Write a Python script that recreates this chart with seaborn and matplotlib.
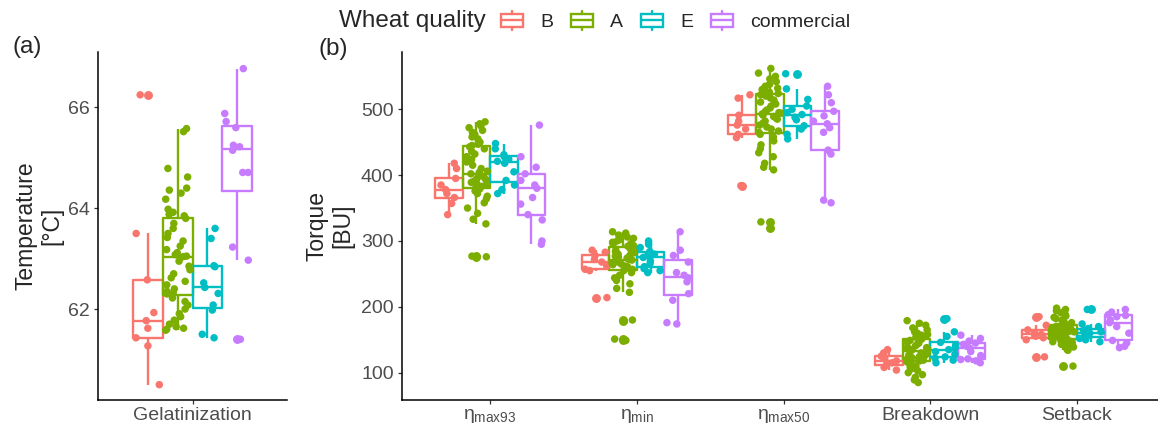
import numpy as np
import pandas as pd
import seaborn as sns
import matplotlib.pyplot as plt
from matplotlib.patches import Rectangle, Patch
from matplotlib.lines import Line2D
from matplotlib.legend_handler import HandlerBase

# ---------------------------------------------------------------- data
qualities = ["B", "A", "E", "commercial"]
palette = ["#F8766D", "#7CAE00", "#00BFC4", "#C77CFF"]

# Gelatinization temperature [°C]
gel_B = [66.25, 63.50, 62.58, 61.93, 61.77, 61.62, 61.43, 61.27, 60.50]
gel_A = [65.58, 65.52, 64.79, 64.62, 64.40, 64.36, 64.30, 64.18, 63.98, 63.92,
         63.88, 63.85, 63.80, 63.70, 63.60, 63.50, 63.42, 63.35, 63.25, 63.18,
         63.12, 63.08, 63.05, 63.04, 63.02, 62.95, 62.85, 62.78, 62.70, 62.62,
         62.55, 62.48, 62.40, 62.35, 62.32, 62.30, 62.22, 62.15, 62.08, 62.00,
         61.91, 61.85, 61.78, 61.70, 61.65, 61.62, 61.60, 61.58]
gel_E = [61.43, 61.50, 61.98, 62.08, 62.31, 62.43, 62.52, 62.84, 62.86, 63.40, 63.60]
gel_C = [61.40, 62.97, 63.23, 64.71, 64.71, 65.15, 65.22, 65.25, 65.60, 65.72,
         65.88, 66.77]

# Torque [BU]
max93_B = [340, 357, 366, 372, 378, 385, 395, 410, 418]
max93_A = [481, 478, 475, 472, 468, 465, 462, 458, 455, 450, 447, 445,
           443, 440, 436, 432, 428, 424, 420, 415, 410, 406, 404, 402,
           401, 399, 397, 395, 393, 391, 389, 387, 385, 383, 382, 381,
           379, 376, 372, 368, 364, 358, 350, 342, 333, 326, 277, 276]
max93_E = [372, 378, 385, 392, 405, 418, 421, 424, 428, 431, 440, 448]
max93_C = [295, 300, 332, 340, 356, 366, 380, 385, 392, 402, 412, 428, 476]

min_B = [214, 255, 257, 262, 268, 272, 278, 283, 286]
min_A = [314, 312, 309, 306, 304, 302, 300, 298, 296, 295, 293, 292,
         290, 288, 286, 284, 282, 280, 278, 277, 276, 274, 273, 272,
         271, 270, 268, 266, 265, 264, 262, 261, 260, 259, 258, 257,
         255, 252, 248, 244, 240, 235, 228, 222, 180, 178, 151, 149]
min_E = [252, 255, 258, 261, 266, 270, 275, 278, 280, 284, 290, 295, 300]
min_C = [174, 176, 210, 220, 238, 244, 248, 252, 268, 278, 286, 314]

max50_B = [384, 457, 462, 470, 476, 482, 491, 517, 522]
max50_A = [562, 555, 550, 546, 542, 538, 535, 532, 530, 528, 526, 524,
           522, 520, 517, 514, 511, 508, 505, 502, 499, 497, 495, 494,
           493, 491, 489, 487, 485, 482, 479, 476, 473, 470, 467, 465,
           462, 458, 452, 446, 440, 434, 428, 418, 412, 408, 329, 319]
max50_E = [455, 462, 470, 475, 484, 488, 492, 495, 500, 505, 515, 531, 554]
max50_C = [358, 362, 432, 438, 465, 472, 478, 482, 490, 497, 510, 522, 535]

brk_B = [104, 108, 112, 115, 118, 121, 125, 130, 135]
brk_A = [179, 175, 172, 168, 165, 162, 160, 158, 157, 156, 155, 154,
         151, 149, 147, 145, 143, 141, 139, 138, 137, 136, 135, 134,
         133, 132, 130, 129, 127, 126, 124, 123, 122, 121, 119, 118,
         116, 114, 112, 110, 108, 106, 103, 100, 97, 93, 89, 85]
brk_E = [115, 119, 122, 124, 128, 132, 135, 138, 142, 146, 155, 162, 182]
brk_C = [115, 118, 120, 121, 126, 132, 137, 140, 143, 145, 148, 152, 157]

set_B = [124, 150, 153, 156, 158, 161, 165, 172, 185]
set_A = [198, 196, 194, 191, 188, 186, 184, 182, 180, 178, 176, 174,
         172, 171, 170, 169, 168, 167, 166, 165, 164, 163, 163, 162,
         162, 161, 160, 159, 158, 157, 156, 155, 154, 153, 152, 151,
         149, 148, 147, 146, 145, 143, 141, 139, 137, 135, 134, 110]
set_E = [147, 150, 152, 154, 156, 158, 160, 162, 164, 167, 170, 174, 196]
set_C = [138, 140, 145, 149, 160, 170, 176, 180, 185, 187, 188, 192, 196]

gel_label = "Gelatinization"
torque_params = [r"$\eta_{\mathrm{max93}}$", r"$\eta_{\mathrm{min}}$",
                 r"$\eta_{\mathrm{max50}}$", "Breakdown", "Setback"]
torque_series = [
    [max93_B, max93_A, max93_E, max93_C],
    [min_B, min_A, min_E, min_C],
    [max50_B, max50_A, max50_E, max50_C],
    [brk_B, brk_A, brk_E, brk_C],
    [set_B, set_A, set_E, set_C],
]


def long_frame(params, series):
    rows = []
    for p, groups in zip(params, series):
        for q, vals in zip(qualities, groups):
            rows += [(p, q, v) for v in vals]
    return pd.DataFrame(rows, columns=["parameter", "quality", "value"])


df_gel = long_frame([gel_label], [[gel_B, gel_A, gel_E, gel_C]])
df_torque = long_frame(torque_params, torque_series)

# ---------------------------------------------------------------- style
sns.set_style("ticks")
plt.rcParams["font.family"] = ["Liberation Sans", "DejaVu Sans"]
plt.rcParams["mathtext.fontset"] = "custom"
plt.rcParams["mathtext.rm"] = "Liberation Sans"
plt.rcParams["mathtext.it"] = "Liberation Sans"
plt.rcParams["mathtext.bf"] = "Liberation Sans:bold"

W, H = 1158, 430
fig = plt.figure(figsize=(W / 100, H / 100), dpi=100)
ax_a = fig.add_axes([98 / W, 30 / H, 189 / W, 348 / H])
ax_b = fig.add_axes([402 / W, 30 / H, 756 / W, 348 / H])

np.random.seed(11)
BOX_W = 0.75


def draw_panel(ax, df, order):
    sns.boxplot(data=df, x="parameter", y="value", hue="quality",
                order=order, hue_order=qualities, palette=palette,
                fill=False, width=BOX_W, gap=0, linewidth=1.7,
                showcaps=False,
                flierprops=dict(marker="o", markersize=5.4),
                legend=False, ax=ax, zorder=2)
    for ln in ax.lines:
        if ln.get_marker() == "o":
            ln.set_markerfacecolor(ln.get_markeredgecolor())
    n0 = len(ax.collections)
    sns.stripplot(data=df, x="parameter", y="value", hue="quality",
                  order=order, hue_order=qualities, palette=palette,
                  dodge=True, jitter=0.34, size=5.4, linewidth=0,
                  legend=False, ax=ax, zorder=3)
    # align the dodged strips with the box positions
    for coll in ax.collections[n0:]:
        off = coll.get_offsets()
        if len(off) == 0:
            continue
        c = np.round(off[:, 0])
        off[:, 0] = c + (off[:, 0] - c) * (BOX_W / 0.8)
        coll.set_offsets(off)

    for side in ("top", "right"):
        ax.spines[side].set_visible(False)
    for side in ("left", "bottom"):
        ax.spines[side].set_linewidth(1.1)
        ax.spines[side].set_color("black")
    ax.tick_params(axis="both", length=3, width=0.9, color="#333333",
                   labelsize=14, labelcolor="#4D4D4D")
    ax.tick_params(axis="y", pad=3)
    ax.tick_params(axis="x", pad=2)
    ax.set_xlabel("")


draw_panel(ax_a, df_gel, [gel_label])
ax_a.set_xlim(-0.6, 0.6)
ax_a.set_ylim(60.196, 67.10)
ax_a.set_yticks([62, 64, 66])
ax_a.set_ylabel("Temperature\n[°C]", fontsize=16.5, linespacing=1.15)
ax_a.yaxis.set_label_coords(-0.185, 0.5)

draw_panel(ax_b, df_torque, torque_params)
ax_b.set_xlim(-0.6, 4.552)
ax_b.set_ylim(58.5, 587)
ax_b.set_yticks([100, 200, 300, 400, 500])
ax_b.set_ylabel("Torque\n[BU]", fontsize=16.5, linespacing=1.15)
ax_b.yaxis.set_label_coords(-0.0635, 0.5)

fig.text(13 / W, 1 - 47 / H, "(a)", ha="left", va="center", fontsize=17.5)
fig.text(318 / W, 1 - 49 / H, "(b)", ha="left", va="center", fontsize=17.5)


# ---------------------------------------------------------------- legend
class BoxKeyHandler(HandlerBase):
    def create_artists(self, legend, orig_handle, xdescent, ydescent,
                       width, height, fontsize, trans):
        col = orig_handle.get_edgecolor()
        x0, y0 = -xdescent, -ydescent
        lw = 1.7
        box = Rectangle((x0 + 0.06 * width, y0 + 0.17 * height),
                        0.88 * width, 0.66 * height, facecolor="white",
                        edgecolor=col, linewidth=lw, transform=trans)
        med = Line2D([x0 + 0.06 * width, x0 + 0.94 * width],
                     [y0 + 0.5 * height] * 2, color=col, lw=lw,
                     transform=trans)
        w_top = Line2D([x0 + 0.5 * width] * 2,
                       [y0 + 0.83 * height, y0 + height], color=col, lw=lw,
                       transform=trans)
        w_bot = Line2D([x0 + 0.5 * width] * 2,
                       [y0, y0 + 0.17 * height], color=col, lw=lw,
                       transform=trans)
        return [box, med, w_top, w_bot]


handles = [Patch(edgecolor=c, facecolor="white") for c in palette]
fig.text(339 / W, 1 - 21 / H, "Wheat quality", ha="left", va="center",
         fontsize=17.5)
fig.legend(handles, qualities, handler_map={Patch: BoxKeyHandler()},
           loc="center left", bbox_to_anchor=(500 / W, 1 - 21 / H),
           ncol=4, frameon=False, fontsize=14, borderpad=0,
           borderaxespad=0, handlelength=1.28, handleheight=1.1,
           handletextpad=0.8, columnspacing=0.85)

fig.savefig("out.png", dpi=100)
